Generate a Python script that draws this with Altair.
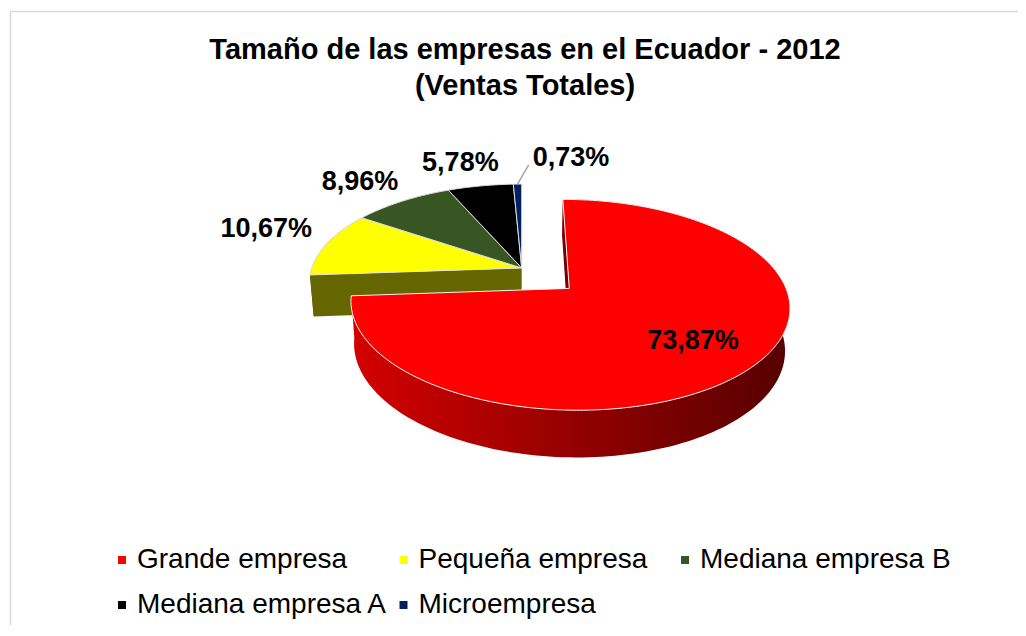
import math
import numpy as np
import pandas as pd
import altair as alt

# ---------------- data ----------------
labels = ["Grande empresa", "Pequeña empresa", "Mediana empresa B",
          "Mediana empresa A", "Microempresa"]
values = [73.87, 10.67, 8.96, 5.78, 0.73]
explode = [0.30, 0.0, 0.0, 0.0, 0.0]

# ---------------- styles ----------------
top_colors = ["#FF0000", "#FFFF00", "#375623", "#000000", "#002060"]
wall_colors = ["#7A0000", "#666600", "#1E3013", "#000000", "#001236"]
red_wall_gradient = ["#D40000", "#560000"]
FONT = "Liberation Sans"

# view / projection parameters (pixels and camera)
W, H = 1008, 614
OX, OY = 10, 11            # page position of plot origin
CX, CY = 521.7 - OX, 268.0 - OY   # pie centre in plot px
K = 210.0                  # px per unit radius
SIN_T = 0.46
COS_T = math.sqrt(1 - SIN_T ** 2)
DIST = 5.88
DEPTH = 0.225
LABEL_SIZE = 27
LABEL_LIFT = 12

N = len(values)
total = sum(values)
fracs = [v / total for v in values]
starts = np.cumsum([0.0] + fracs[:-1]) * 360.0
ends = starts + np.array(fracs) * 360.0
mids = (starts + ends) / 2.0


def project(X, Z, Hh=0.0):
    yc = Z * SIN_T + Hh * COS_T
    d = DIST + Z * COS_T - Hh * SIN_T
    return X * DIST / d, yc * DIST / d


def offset_of(i):
    m = math.radians(mids[i])
    return explode[i] * math.sin(m), explode[i] * math.cos(m)


def rim(i, a_deg, r=1.0, h=0.0):
    ox, oz = offset_of(i)
    a = math.radians(a_deg)
    return project(ox + r * math.sin(a), oz + r * math.cos(a), h)


def vertex(i, h=0.0):
    ox, oz = offset_of(i)
    return project(ox, oz, h)


def to_px(p):
    return CX + K * p[0], CY - K * p[1]


def to_n(px, py):
    return (px - CX) / K, (CY - py) / K


cam = (0.0, -DIST * COS_T)

tops, walls, grads = [], [], []
for i, lab in enumerate(labels):
    grp = "front" if explode[i] > 0 else "back"
    n = max(4, int(round(fracs[i] * 240)))
    angs = np.linspace(starts[i], ends[i], n + 1)
    pts = [vertex(i)] + [rim(i, a) for a in angs] + [vertex(i)]
    for k, (x, y) in enumerate(pts):
        tops.append(dict(face=f"top{i}", i=k, xn=x, yn=y, slice=lab, grp=grp))
    pts = [rim(i, a) for a in angs] + [rim(i, a, h=-DEPTH) for a in angs[::-1]]
    pts.append(pts[0])
    for k, (x, y) in enumerate(pts):
        row = dict(face=f"wall{i}", i=k, xn=x, yn=y, slice=lab, grp=grp,
                   color=wall_colors[i])
        (grads if grp == "front" else walls).append(row)
    # cut faces on the boundary of an exploded piece
    ox, oz = offset_of(i)
    for edge, a, nb in (("s", starts[i], (i - 1) % N), ("e", ends[i], (i + 1) % N)):
        if explode[nb] == explode[i]:
            continue
        ar = math.radians(a)
        nrm = (-math.cos(ar), math.sin(ar)) if edge == "s" else (math.cos(ar), -math.sin(ar))
        if (cam[0] - ox) * nrm[0] + (cam[1] - oz) * nrm[1] <= 0:
            continue
        quad = [vertex(i), rim(i, a), rim(i, a, h=-DEPTH), vertex(i, h=-DEPTH), vertex(i)]
        for k, (x, y) in enumerate(quad):
            walls.append(dict(face=f"cut{i}{edge}", i=k, xn=x, yn=y, slice=lab,
                              grp=grp, color=wall_colors[i]))

tops = pd.DataFrame(tops)
walls = pd.DataFrame(walls)
grads = pd.DataFrame(grads)

# ---------------- labels ----------------
BOLD_W = {",": 0.278, "%": 0.889}
lab_rows, leaders, boxes = [], [], []
for i in range(N):
    txt = f"{values[i]:.2f}".replace(".", ",") + "%"
    w = sum(BOLD_W.get(c, 0.556) for c in txt) * LABEL_SIZE
    hh = 0.2 * LABEL_SIZE
    if fracs[i] > 0.5:
        px, py = to_px(rim(i, mids[i], r=0.7))
    else:
        ax, ay = to_px(rim(i, mids[i], r=1.08))
        vx, vy = to_px(vertex(i))
        L = math.hypot(ax - vx, ay - vy)
        ux, uy = (ax - vx) / L, (ay - vy) / L
        px, py = ax + ux * w / 2, ay + uy * hh - LABEL_LIFT
        if boxes:
            l0, r0, cy0 = boxes[-1]
            if px - w / 2 < r0 + 2 and abs(py - cy0) < LABEL_SIZE:
                px = r0 + 34 + w / 2
                py -= 3
                sx, sy = to_px(rim(i, mids[i], r=1.0))
                x1, y1 = to_n(sx, sy)
                x2, y2 = to_n(px - w / 2 - 4, py + 7)
                leaders.append(dict(x1=x1, y1=y1, x2=x2, y2=y2))
        boxes.append((px - w / 2, px + w / 2, py))
    xn, yn = to_n(px, py)
    lab_rows.append(dict(xn=xn, yn=yn, txt=txt))
lab_df = pd.DataFrame(lab_rows)
lead_df = pd.DataFrame(leaders)

# ---------------- chart ----------------
xscale = alt.Scale(domain=[(0 - CX) / K, (W - CX) / K], nice=False, zero=False)
yscale = alt.Scale(domain=[(CY - H) / K, CY / K], nice=False, zero=False)
xaxis = alt.Axis(orient="top", title="", labels=False, ticks=False, grid=False,
                 domainColor="#D9D9D9", domainWidth=1.5)
yaxis = alt.Axis(orient="left", title="", labels=False, ticks=False, grid=False,
                 domainColor="#D9D9D9", domainWidth=1.5)
X = alt.X("xn:Q", scale=xscale, axis=xaxis)
Y = alt.Y("yn:Q", scale=yscale, axis=yaxis)

legend = alt.Legend(title=None, orient="none", legendX=98, legendY=535,
                    direction="horizontal", columns=3, gridAlign="all",
                    symbolType="square", symbolSize=64, symbolStrokeWidth=0,
                    labelFont=FONT, labelFontSize=28, labelColor="black",
                    labelOffset=1, labelLimit=400, columnPadding=1.5,
                    rowPadding=17, padding=0)
fill_top = alt.Fill("slice:N", scale=alt.Scale(domain=labels, range=top_colors),
                    legend=legend, sort=labels)

wall_back = alt.Chart(walls[walls.grp == "back"]).mark_line(
    filled=True, strokeWidth=0.5).encode(
    x=X, y=Y, color=alt.Color("color:N", scale=None),
    detail="face:N", order="i:Q")
top_back = alt.Chart(tops[tops.grp == "back"]).mark_line(
    filled=True, stroke="#E0E0E0", strokeWidth=1).encode(
    x=X, y=Y, fill=fill_top, detail="face:N", order="i:Q")
grad_front = alt.Chart(grads).mark_line(
    filled=True,
    fill=alt.LinearGradient(gradient="linear", x1=0, x2=1, y1=0, y2=0,
                            stops=[alt.GradientStop(color=red_wall_gradient[0], offset=0),
                                   alt.GradientStop(color=red_wall_gradient[1], offset=1)])
).encode(x=X, y=Y, detail="face:N", order="i:Q")
wall_front = alt.Chart(walls[walls.grp == "front"]).mark_line(
    filled=True, strokeWidth=0.5).encode(
    x=X, y=Y, color=alt.Color("color:N", scale=None),
    detail="face:N", order="i:Q")
top_front = alt.Chart(tops[tops.grp == "front"]).mark_line(
    filled=True, stroke="#F2F2F2", strokeWidth=1).encode(
    x=X, y=Y, fill=fill_top, detail="face:N", order="i:Q")
leader = alt.Chart(lead_df).mark_rule(color="#A6A6A6", strokeWidth=1.5).encode(
    x=alt.X("x1:Q", scale=xscale, axis=xaxis), y=alt.Y("y1:Q", scale=yscale, axis=yaxis),
    x2="x2:Q", y2="y2:Q")
text = alt.Chart(lab_df).mark_text(
    font=FONT, fontSize=LABEL_SIZE, fontWeight="bold", color="black",
    align="center", baseline="middle").encode(x=X, y=Y, text="txt:N")

chart = alt.layer(wall_back, top_back, grad_front, wall_front, top_front,
                  leader, text).properties(
    width=W, height=H,
    autosize=alt.AutoSizeParams(type="none"),
    padding={"left": 2, "top": 3, "right": 0, "bottom": 0},
    title=alt.TitleParams(
        text=["Tamaño de las empresas en el Ecuador - 2012", "(Ventas Totales)"],
        font=FONT, fontSize=29, fontWeight="bold", color="black",
        anchor="middle", lineHeight=36, offset=0, dx=11, dy=90),
).configure_view(stroke=None).configure(background="white")

chart.save("out.html", embed_options={"renderer": "svg", "actions": False})
